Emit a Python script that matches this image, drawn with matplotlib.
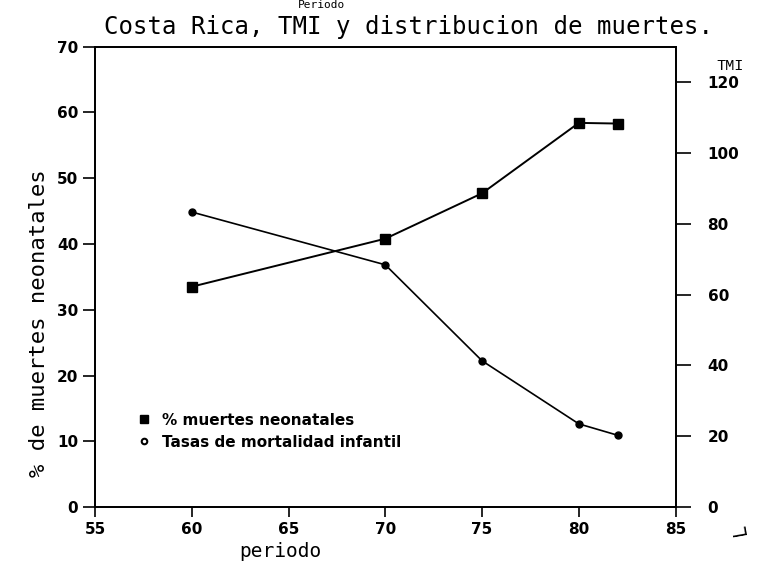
import matplotlib
matplotlib.use("Agg")
import matplotlib.pyplot as plt
from matplotlib.lines import Line2D

# datos
periodos = [60, 70, 75, 80, 82]
pct_neonatal = [33.5, 40.8, 47.7, 58.4, 58.3]
tmi = [83.3, 68.4, 41.3, 23.5, 20.3]

x_ticks = [55, 60, 65, 70, 75, 80, 85]
left_ticks = [0, 10, 20, 30, 40, 50, 60, 70]
right_ticks = [0, 20, 40, 60, 80, 100, 120]

narrow = ['DejaVu Sans']
mono = ['DejaVu Sans Mono']

fig = plt.figure(figsize=(7.66, 5.61), dpi=100)
ax = fig.add_axes([0.124, 0.096, 0.758, 0.821])
ax2 = ax.twinx()

ax.plot(periodos, pct_neonatal, color='black', lw=1.4, marker='s', ms=7)
ax2.plot(periodos, tmi, color='black', lw=1.2, marker='o', ms=5)

ax.set_xlim(55, 85)
ax.set_ylim(0, 70)
ax2.set_ylim(0, 130)

ax.set_xticks(x_ticks)
ax.set_yticks(left_ticks)
ax2.set_yticks(right_ticks)

ax.tick_params(axis='x', direction='out', length=7, width=1.2, pad=4)
ax.tick_params(axis='y', direction='out', length=9, width=1.2, pad=3)
ax2.tick_params(axis='y', direction='out', length=11, width=1.2, pad=12)

for lab in ax.get_xticklabels() + ax.get_yticklabels() + ax2.get_yticklabels():
    lab.set_family(narrow)
    lab.set_fontweight('bold')
    lab.set_fontsize(11)

for a in (ax, ax2):
    for s in a.spines.values():
        s.set_linewidth(1.3)

ax.set_xlabel('periodo', family=mono, fontsize=14)
ax.xaxis.set_label_coords(0.32, -0.075)
ax.set_ylabel('% de muertes neonatales', family=mono, fontsize=16)
ax.yaxis.set_label_coords(-0.08, 0.40)

fig.text(0.533, 0.94, 'Costa Rica, TMI y distribucion de muertes.',
         family=mono, fontsize=17.3, ha='center', va='baseline')
fig.text(0.42, 1.0, 'Periodo', family=mono, fontsize=8, ha='center', va='top')
fig.text(0.953, 0.875, 'TMI', family=['Liberation Mono'], fontsize=11, ha='center')
fig.text(0.965, 0.05, 'L', family=mono, fontsize=14, rotation=100, ha='center')

handles = [Line2D([], [], ls='none', marker='s', ms=6, color='black'),
           Line2D([], [], ls='none', marker='o', ms=4, mfc='white', mec='black', mew=1.5)]
leg = ax.legend(handles, ['% muertes neonatales', 'Tasas de mortalidad infantil'],
                loc='lower left', bbox_to_anchor=(0.05, 0.095), frameon=False,
                handlelength=0.8, handletextpad=0.8, labelspacing=0.45,
                prop={'family': narrow, 'weight': 'bold', 'size': 11})

fig.savefig('out.png', dpi=100)
